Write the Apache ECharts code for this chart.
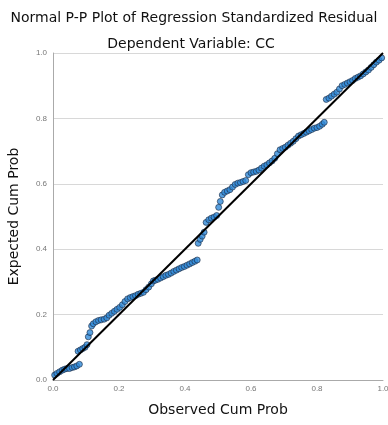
<!DOCTYPE html>
<html>
<head>
<meta charset="utf-8">
<script src="https://cdn.jsdelivr.net/npm/echarts@6/dist/echarts.min.js"></script>
<style>
html,body{margin:0;padding:0;background:#fff}
#chart{width:388px;height:425px}
</style>
</head>
<body>
<div id="chart"></div>
<script>
// observed cum prob (x) and expected cum prob (y)
var observed = [
0.005,0.012,0.02,0.028,0.035,0.042,0.05,0.058,0.065,0.072,0.08,
0.076,0.083,0.09,0.097,0.103,0.107,0.112,0.117,0.122,0.13,0.138,0.146,0.155,0.163,0.17,0.178,0.186,0.194,0.202,0.21,0.218,0.226,0.234,0.242,0.25,0.258,0.266,0.274,0.282,0.29,0.298,0.304,
0.31,0.318,0.326,0.334,0.342,0.35,0.358,0.366,0.374,0.382,0.39,0.398,0.406,0.414,0.422,0.43,0.437,
0.44,0.446,0.452,0.458,0.464,0.472,0.48,0.488,0.496,0.502,0.507,0.513,0.52,0.528,0.536,0.544,0.552,0.56,0.568,0.576,0.584,0.592,0.6,0.608,0.616,0.624,0.632,0.64,0.648,0.656,0.664,0.672,0.68,0.688,0.696,0.704,0.712,0.72,0.728,0.736,0.744,0.752,0.76,0.768,0.776,0.784,0.792,0.8,0.808,0.816,0.822,
0.828,0.836,0.844,0.852,0.86,0.868,0.876,0.884,0.892,0.9,0.908,0.916,0.924,0.932,0.94,0.948,0.956,0.964,0.972,0.98,0.988,0.996
];
var expected = [
0.015,0.02,0.025,0.03,0.033,0.035,0.035,0.038,0.04,0.043,0.048,
0.088,0.092,0.096,0.1,0.108,0.132,0.145,0.165,0.172,0.178,0.182,0.184,0.186,0.19,0.198,0.204,0.21,0.216,0.222,0.23,0.24,0.248,0.252,0.255,0.258,0.262,0.265,0.268,0.276,0.284,0.294,0.303,
0.305,0.308,0.312,0.316,0.32,0.323,0.327,0.332,0.336,0.34,0.344,0.347,0.351,0.355,0.359,0.363,0.367,
0.418,0.43,0.44,0.452,0.482,0.49,0.495,0.498,0.503,0.528,0.546,0.566,0.574,0.578,0.582,0.59,0.598,0.602,0.604,0.607,0.61,0.628,0.634,0.636,0.638,0.642,0.648,0.654,0.658,0.664,0.67,0.678,0.692,0.704,0.708,0.712,0.718,0.724,0.73,0.738,0.746,0.75,0.754,0.758,0.762,0.766,0.77,0.772,0.776,0.782,0.788,
0.858,0.862,0.868,0.874,0.88,0.89,0.9,0.904,0.908,0.912,0.916,0.922,0.926,0.93,0.936,0.942,0.948,0.956,0.964,0.972,0.978,0.985
];
var refLine = [[0,0],[1,1]];

var points = [];
for (var i = 0; i < observed.length; i++) {
  points.push([observed[i], expected[i]]);
}

var mychart = echarts.init(document.getElementById('chart'));
var axisFont = {color:'#777', fontSize:8, fontFamily:'Liberation Sans'};
var textFont = {fontSize:14, fontWeight:'normal', color:'#111', fontFamily:'DejaVu Sans'};
var option = {
  animation:false,
  title:[
    {text:'Normal P-P Plot of Regression Standardized Residual', left:189, top:6, textAlign:'center', textStyle:textFont},
    {text:'Dependent Variable: CC', left:186, top:32, textAlign:'center', textStyle:textFont}
  ],
  grid:{left:53, right:5, top:53, bottom:45, outerBoundsMode:'none', containLabel:false},
  xAxis:{
    type:'value', min:0, max:1, interval:0.2,
    name:'Observed Cum Prob', nameLocation:'middle', nameGap:23,
    nameTextStyle:textFont,
    axisLine:{show:true, lineStyle:{color:'#aaa', width:1}},
    axisTick:{show:false},
    axisLabel:Object.assign({margin:5, formatter:function(v){return v.toFixed(1);}}, axisFont),
    splitLine:{show:false}
  },
  yAxis:{
    type:'value', min:0, max:1, interval:0.2,
    name:'Expected Cum Prob', nameLocation:'middle', nameGap:32,
    nameTextStyle:textFont,
    axisLine:{show:true, lineStyle:{color:'#aaa', width:1}},
    axisTick:{show:false},
    axisLabel:Object.assign({margin:6, formatter:function(v){return v.toFixed(1);}}, axisFont),
    splitLine:{show:true, lineStyle:{color:'#d8d8d8', width:1}}
  },
  series:[
    {
      type:'scatter', data:points, symbol:'circle', symbolSize:6,
      itemStyle:{color:'#2f8ad8', borderColor:'#1b2a44', borderWidth:0.8}
    },
    {
      type:'line', data:refLine, showSymbol:false, z:5,
      lineStyle:{color:'#000', width:2}
    }
  ]
};
mychart.setOption(option);
</script>
</body>
</html>
